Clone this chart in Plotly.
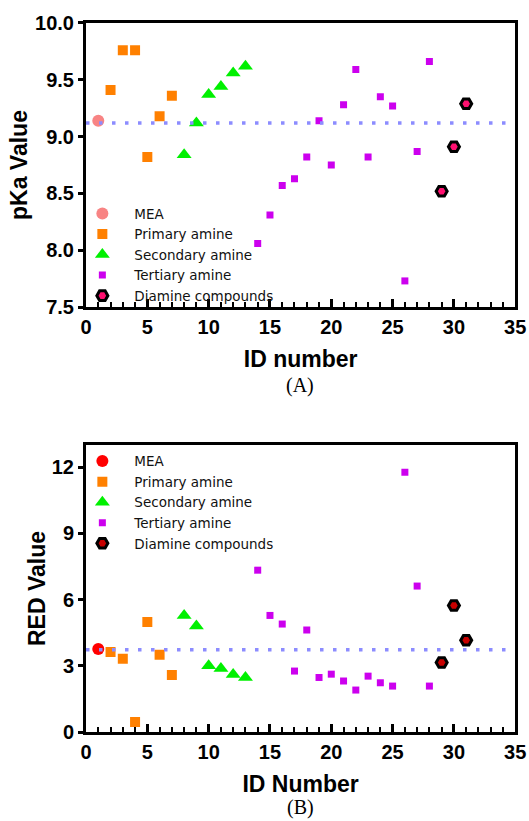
import plotly.graph_objects as go

# ---------------- data ----------------
mea_id = [1]
mea_pka = [9.14]
mea_red = [3.76]

prim_id = [2, 3, 4, 5, 6, 7]
prim_pka = [9.41, 9.76, 9.76, 8.82, 9.18, 9.36]
prim_red = [3.62, 3.32, 0.45, 4.98, 3.50, 2.58]

sec_id = [8, 9, 10, 11, 12, 13]
sec_pka = [8.84, 9.12, 9.37, 9.44, 9.56, 9.62]
sec_red = [5.28, 4.80, 3.00, 2.88, 2.60, 2.47]

ter_id = [14, 15, 16, 17, 18, 19, 20, 21, 22, 23, 24, 25, 26, 27, 28]
ter_pka = [8.06, 8.31, 8.57, 8.63, 8.82, 9.14, 8.75, 9.28, 9.59, 8.82, 9.35, 9.27, 7.73, 8.87, 9.66]
ter_red = [7.33, 5.28, 4.89, 2.76, 4.62, 2.47, 2.62, 2.31, 1.90, 2.53, 2.23, 2.08, 11.76, 6.61, 2.08]

dia_id = [29, 30, 31]
dia_pka = [8.52, 8.91, 9.29]
dia_red = [3.15, 5.73, 4.16]

ref_x = [0, 35]
ref_pka = [9.12, 9.12]
ref_red = [3.73, 3.73]

names = ["MEA", "Primary amine", "Secondary amine", "Tertiary amine", "Diamine compounds"]

# ---------------- figure ----------------
fig = go.Figure()

def add_group(xa, ya, legend, mea_col, dia_col, pka):
    sets = [
        (mea_id, mea_pka if pka else mea_red, dict(symbol="circle", size=12, color=mea_col)),
        (prim_id, prim_pka if pka else prim_red, dict(symbol="square", size=10, color="#FF8000")),
        (sec_id, sec_pka if pka else sec_red, dict(symbol="triangle-up", size=13, color="#00F000")),
        (ter_id, ter_pka if pka else ter_red, dict(symbol="square", size=7, color="#CC00EE")),
        (dia_id, dia_pka if pka else dia_red,
         dict(symbol="hexagon2", size=11, color=dia_col, line=dict(color="black", width=3))),
    ]
    for name, (x, y, mk) in zip(names, sets):
        fig.add_trace(go.Scatter(x=x, y=y, mode="markers", name=name, marker=mk,
                                 xaxis=xa, yaxis=ya, legend=legend))
    fig.add_trace(go.Scatter(x=ref_x, y=ref_pka if pka else ref_red, mode="lines",
                             line=dict(color="#8C8CFF", width=3.5, dash="3.5px,9.5px"),
                             showlegend=False, xaxis=xa, yaxis=ya, hoverinfo="skip"))

add_group("x", "y", "legend", "#F88484", "#FF1070", True)
add_group("x2", "y2", "legend2", "#FF0000", "#C80000", False)

tickfont = dict(family="Liberation Sans, Arial", size=20, color="black", weight="bold")
titlefont = dict(family="Liberation Sans, Arial", size=23, color="black", weight="bold")

xcommon = dict(range=[0, 35], dtick=5, tick0=0, ticks="inside", ticklen=8, tickwidth=2.5,
               tickcolor="black", showline=True, linewidth=3, linecolor="black", mirror=True,
               showgrid=False, zeroline=False, tickfont=tickfont, automargin=False,
               minor=dict(dtick=1, ticks="inside", ticklen=5, tickwidth=2, tickcolor="black",
                          showgrid=False),
               domain=[0.1626, 0.974])
ycommon = dict(ticks="outside", ticklen=5, tickwidth=2.5, tickcolor="black", showline=True,
               linewidth=3, linecolor="black", mirror=True, showgrid=False, zeroline=False,
               tickfont=tickfont, automargin=False)

legfont = dict(family="DejaVu Sans", size=13.5, color="#111")

fig.update_layout(
    width=529, height=821,
    margin=dict(l=0, r=0, t=0, b=0),
    paper_bgcolor="white", plot_bgcolor="white",
    showlegend=True,
    xaxis=dict(**xcommon, anchor="y",
               title=dict(text="ID number", font=titlefont, standoff=14)),
    yaxis=dict(**ycommon, range=[7.5, 10.0], dtick=0.5, tick0=7.5, tickformat=".1f",
               domain=[0.626, 0.972], anchor="x",
               title=dict(text="pKa Value", font=titlefont, standoff=2)),
    xaxis2=dict(**xcommon, anchor="y2",
                title=dict(text="ID Number", font=titlefont, standoff=14)),
    yaxis2=dict(**ycommon, range=[0, 13], dtick=3, tick0=0,
                domain=[0.1084, 0.458], anchor="x2",
                title=dict(text="RED Value", font=titlefont, standoff=0)),
    legend=dict(x=0.133, y=0.621, xanchor="left", yanchor="bottom", itemwidth=54,
                bgcolor="rgba(0,0,0,0)", tracegroupgap=0, font=legfont),
    legend2=dict(x=0.133, y=0.457, xanchor="left", yanchor="top", itemwidth=54,
                 bgcolor="rgba(0,0,0,0)", tracegroupgap=0, font=legfont),
    annotations=[
        dict(text="(A)", x=0.568, y=1 - 386 / 821, xref="paper", yref="paper",
             xanchor="center", yanchor="middle", showarrow=False,
             font=dict(family="Liberation Serif, Times New Roman", size=20, color="black")),
        dict(text="(B)", x=0.568, y=1 - 807 / 821, xref="paper", yref="paper",
             xanchor="center", yanchor="middle", showarrow=False,
             font=dict(family="Liberation Serif, Times New Roman", size=20, color="black")),
    ],
)

fig.write_html("out.html", config={"displayModeBar": False},
               post_script="document.body.style.margin='0';document.body.style.overflow='hidden';")
